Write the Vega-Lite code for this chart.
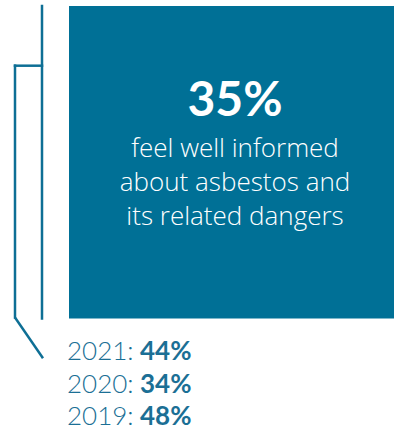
{
  "$schema": "https://vega.github.io/schema/vega-lite/v6.json",
  "width": 394,
  "height": 428,
  "padding": 0,
  "autosize": {"type": "fit", "contains": "padding"},
  "config": {"view": {"stroke": null}, "axis": {"disable": true}},
  "datasets": {
    "headline": [{"share": 35, "shareLabel": "35%", "label": "feel well informed\nabout asbestos and\nits related dangers"}],
    "history": [
      {"year": "2021", "yearLabel": "2021:", "share": 44, "shareLabel": "44%"},
      {"year": "2020", "yearLabel": "2020:", "share": 34, "shareLabel": "34%"},
      {"year": "2019", "yearLabel": "2019:", "share": 48, "shareLabel": "48%"}
    ]
  },
  "resolve": {"scale": {"y": "independent"}},
  "layer": [
    {
      "data": {"name": "headline"},
      "mark": {"type": "rect", "color": "#007096"},
      "encoding": {
        "x": {"datum": 69, "type": "quantitative", "scale": {"domain": [0, 394], "nice": false, "zero": false}},
        "x2": {"datum": 394},
        "y": {"datum": 6, "type": "quantitative", "scale": {"domain": [0, 428], "nice": false, "zero": false, "reverse": true}},
        "y2": {"datum": 320}
      }
    },
    {
      "data": {"values": [{}]},
      "mark": {"type": "rule", "color": "#0E6F95", "strokeWidth": 2.5, "strokeCap": "square"},
      "encoding": {
        "x": {"datum": 42, "type": "quantitative", "scale": {"domain": [0, 394], "nice": false, "zero": false}},
        "y": {"datum": 6, "type": "quantitative", "scale": {"domain": [0, 428], "nice": false, "zero": false, "reverse": true}},
        "y2": {"datum": 320}
      }
    },
    {
      "data": {"values": [{}]},
      "mark": {"type": "rule", "color": "#0E6F95", "strokeWidth": 2.5, "strokeCap": "square"},
      "encoding": {
        "x": {"datum": 15, "type": "quantitative", "scale": {"domain": [0, 394], "nice": false, "zero": false}},
        "x2": {"datum": 42},
        "y": {"datum": 66, "type": "quantitative", "scale": {"domain": [0, 428], "nice": false, "zero": false, "reverse": true}}
      }
    },
    {
      "data": {"values": [{}]},
      "mark": {"type": "rule", "color": "#0E6F95", "strokeWidth": 2.5, "strokeCap": "square"},
      "encoding": {
        "x": {"datum": 15, "type": "quantitative", "scale": {"domain": [0, 394], "nice": false, "zero": false}},
        "y": {"datum": 66, "type": "quantitative", "scale": {"domain": [0, 428], "nice": false, "zero": false, "reverse": true}},
        "y2": {"datum": 319}
      }
    },
    {
      "data": {"values": [{}]},
      "mark": {"type": "rule", "color": "#0E6F95", "strokeWidth": 2.5, "strokeCap": "butt"},
      "encoding": {
        "x": {"datum": 15, "type": "quantitative", "scale": {"domain": [0, 394], "nice": false, "zero": false}},
        "x2": {"datum": 43},
        "y": {"datum": 319, "type": "quantitative", "scale": {"domain": [0, 428], "nice": false, "zero": false, "reverse": true}},
        "y2": {"datum": 360}
      }
    },
    {
      "data": {"name": "headline"},
      "mark": {"type": "text", "font": "Lato", "fontWeight": "bold", "fontSize": 48, "color": "white", "align": "center", "baseline": "alphabetic"},
      "encoding": {
        "x": {"datum": 235, "type": "quantitative", "scale": {"domain": [0, 394], "nice": false, "zero": false}},
        "y": {"datum": 117, "type": "quantitative", "scale": {"domain": [0, 428], "nice": false, "zero": false, "reverse": true}},
        "text": {"field": "shareLabel"}
      }
    },
    {
      "data": {"name": "headline"},
      "mark": {"type": "text", "font": "Open Sans", "fontWeight": 300, "fontSize": 26, "color": "white", "align": "center", "baseline": "alphabetic", "lineBreak": "\n", "lineHeight": 34},
      "encoding": {
        "x": {"datum": 235, "type": "quantitative", "scale": {"domain": [0, 394], "nice": false, "zero": false}},
        "y": {"datum": 158, "type": "quantitative", "scale": {"domain": [0, 428], "nice": false, "zero": false, "reverse": true}},
        "text": {"field": "label"}
      }
    },
    {
      "data": {"name": "history"},
      "mark": {"type": "text", "font": "Lato", "fontWeight": 300, "fontSize": 26, "color": "#1B6F95", "align": "left", "baseline": "alphabetic"},
      "encoding": {
        "x": {"datum": 67, "type": "quantitative", "scale": {"domain": [0, 394], "nice": false, "zero": false}},
        "y": {"field": "year", "type": "ordinal", "sort": null, "scale": {"type": "point", "domain": ["2021", "2020", "2019"], "range": [360, 425], "padding": 0}},
        "text": {"field": "yearLabel"}
      }
    },
    {
      "data": {"name": "history"},
      "mark": {"type": "text", "font": "Lato", "fontWeight": "bold", "fontSize": 26, "color": "#1B6F95", "align": "left", "baseline": "alphabetic"},
      "encoding": {
        "x": {"datum": 140, "type": "quantitative", "scale": {"domain": [0, 394], "nice": false, "zero": false}},
        "y": {"field": "year", "type": "ordinal", "sort": null, "scale": {"type": "point", "domain": ["2021", "2020", "2019"], "range": [360, 425], "padding": 0}},
        "text": {"field": "shareLabel"}
      }
    }
  ]
}
